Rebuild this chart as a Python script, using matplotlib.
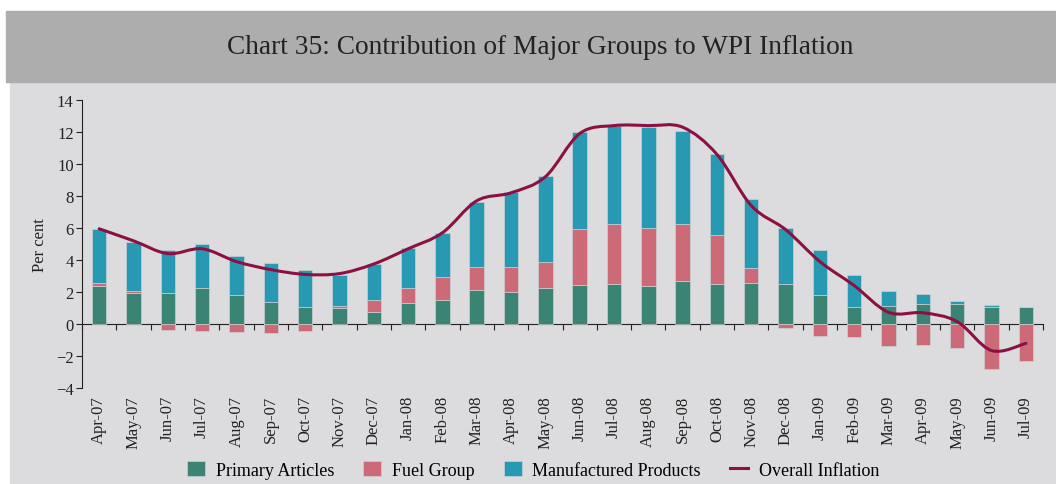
import numpy as np
import matplotlib.pyplot as plt
from matplotlib.path import Path
from matplotlib.patches import PathPatch, Rectangle

months = ['Apr-07', 'May-07', 'Jun-07', 'Jul-07', 'Aug-07', 'Sep-07', 'Oct-07',
          'Nov-07', 'Dec-07', 'Jan-08', 'Feb-08', 'Mar-08', 'Apr-08', 'May-08',
          'Jun-08', 'Jul-08', 'Aug-08', 'Sep-08', 'Oct-08', 'Nov-08', 'Dec-08',
          'Jan-09', 'Feb-09', 'Mar-09', 'Apr-09', 'May-09', 'Jun-09', 'Jul-09']
primary = [2.35, 1.95, 1.96, 2.25, 1.80, 1.35, 1.05, 1.00, 0.77, 1.32, 1.53, 2.10,
           2.02, 2.22, 2.42, 2.52, 2.35, 2.70, 2.53, 2.57, 2.48, 1.80, 1.08, 1.10,
           1.28, 1.24, 1.05, 1.08]
fuel = [0.20, 0.10, -0.37, -0.46, -0.50, -0.58, -0.42, 0.13, 0.74, 0.90, 1.42, 1.45,
        1.52, 1.68, 3.50, 3.70, 3.62, 3.52, 3.02, 0.95, -0.22, -0.75, -0.80, -1.38,
        -1.30, -1.50, -2.82, -2.30]
manufactured = [3.37, 3.07, 2.69, 2.77, 2.45, 2.45, 2.32, 1.95, 2.21, 2.53, 2.75, 4.10,
                4.69, 5.35, 6.06, 6.18, 6.36, 5.83, 5.05, 4.28, 3.52, 2.80, 2.00, 0.95,
                0.62, 0.21, 0.13, 0.00]
overall = [5.95, 5.2, 4.4, 4.7, 3.9, 3.4, 3.1, 3.15, 3.75, 4.7, 5.7, 7.7,
           8.2, 9.2, 11.9, 12.4, 12.4, 12.3, 10.6, 7.4, 5.9, 3.9, 2.4, 0.73,
           0.7, 0.15, -1.66, -1.21]

c_prim = '#3b8474'
c_fuel = '#cc6a77'
c_manu = '#2899b3'
c_line = '#8c1142'
bg = '#dcdcde'

plt.rcParams['font.family'] = ['Liberation Serif', 'DejaVu Serif']

fig = plt.figure(figsize=(10.56, 4.85), dpi=100)
fig.patch.set_facecolor('white')
fig.patches.append(Rectangle((10 / 1056, 0), 1046 / 1056, (485 - 83) / 485,
                             transform=fig.transFigure, color=bg, zorder=-10))
fig.patches.append(Rectangle((6 / 1056, (485 - 83) / 485), 1050 / 1056, 71 / 485,
                             transform=fig.transFigure, color='#adadad', zorder=-10))
fig.text(540 / 1056, (485 - 47) / 485, 'Chart 35: Contribution of Major Groups to WPI Inflation',
         ha='center', va='center', fontsize=19.7, color='#222222')

ax = fig.add_axes([82 / 1056, (485 - 389) / 485, 961 / 1056, 288 / 485])
ax.set_facecolor(bg)
x = np.arange(len(months))
p = np.array(primary)
f = np.array(fuel)
m = np.array(manufactured)
w = 0.42
ec = dict(edgecolor='#c8d0d4', linewidth=0.5)
b1 = ax.bar(x, p, w, color=c_prim, label='Primary Articles', **ec)
b2 = ax.bar(x, f, w, bottom=np.where(f > 0, p, 0), color=c_fuel, label='Fuel Group', **ec)
b3 = ax.bar(x, m, w, bottom=p + np.clip(f, 0, None), color=c_manu,
            label='Manufactured Products', **ec)

# smoothed overall line (Catmull-Rom as bezier segments)
pts = np.column_stack([x, overall]).astype(float)
verts = [pts[0]]
codes = [Path.MOVETO]
for i in range(len(pts) - 1):
    p0 = pts[max(i - 1, 0)]
    p1 = pts[i]
    p2 = pts[i + 1]
    p3 = pts[min(i + 2, len(pts) - 1)]
    verts += [p1 + (p2 - p0) / 6, p2 - (p3 - p1) / 6, p2]
    codes += [Path.CURVE4] * 3
ax.add_patch(PathPatch(Path(verts, codes), facecolor='none', edgecolor=c_line,
                       lw=2.2, zorder=5, capstyle='round'))
ln, = ax.plot([], [], color=c_line, lw=2.2, label='Overall Inflation')

ax.set_xlim(-0.5, len(months) - 0.5)
ax.set_ylim(-4, 14)
ax.set_yticks(range(-4, 15, 2))
for s in ['top', 'right', 'bottom']:
    ax.spines[s].set_visible(False)
ax.spines['left'].set_color('#222222')
ax.tick_params(axis='y', length=4, labelsize=12, colors='#222222', pad=2)
ax.set_xticks(x)
ax.set_xticklabels(months, rotation=90, fontsize=12, color='#222222')
ax.tick_params(axis='x', length=0, pad=5)
ax.set_ylabel('Per cent', fontsize=12, color='#222222', labelpad=6)

zero = ax.secondary_xaxis(0, transform=ax.transData)
zero.set_xticks(np.arange(-0.5, len(months), 1))
zero.tick_params(axis='x', length=4, labelbottom=False, color='#222222')
zero.spines['bottom'].set_color('#222222')

ax.legend([b1, b2, b3, ln], ['Primary Articles', 'Fuel Group', 'Manufactured Products',
                             'Overall Inflation'],
          loc='center', bbox_to_anchor=(533 / 1056, 14 / 485), bbox_transform=fig.transFigure,
          ncol=4, frameon=False, fontsize=13, handlelength=1.0, handleheight=0.9,
          columnspacing=1.6, handletextpad=0.6)

fig.savefig('out.png', dpi=100)
